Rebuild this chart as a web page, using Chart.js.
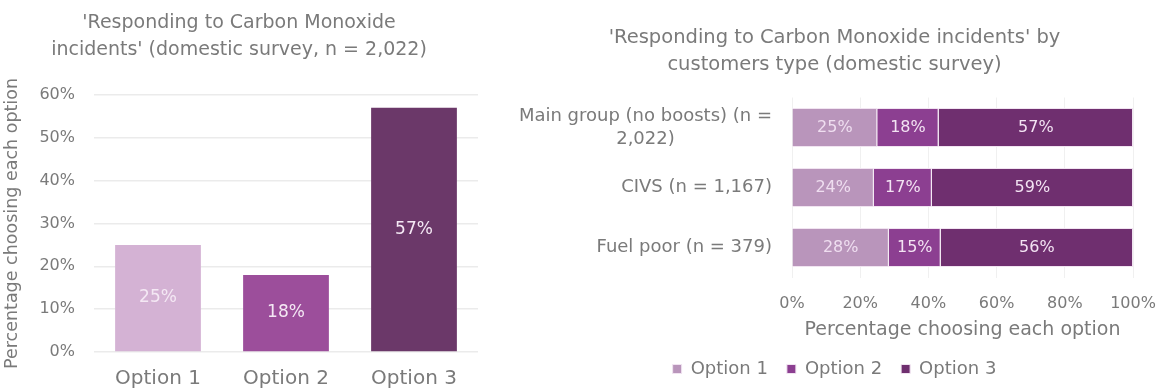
<!DOCTYPE html>
<html>
<head>
<meta charset="utf-8">
<script src="https://cdn.jsdelivr.net/npm/chart.js@4.4.0/dist/chart.umd.min.js"></script>
<style>
  html, body { margin: 0; padding: 0; background: #fff; }
  #wrap { position: relative; width: 1159px; height: 390px; overflow: hidden; }
  #leftBox { position: absolute; left: 0; top: 0; width: 500px; height: 390px; }
  #rightBox { position: absolute; left: 510px; top: 0; width: 649px; height: 390px; }
</style>
</head>
<body>
<div id="wrap">
  <div id="leftBox"><canvas id="overallChart"></canvas></div>
  <div id="rightBox"><canvas id="groupChart"></canvas></div>
</div>
<script>
// overall result (left chart)
const optionLabels = ['Option 1', 'Option 2', 'Option 3'];
const overallValues = [25, 18, 57];
const overallTicks = [0, 10, 20, 30, 40, 50, 60];

// by customer type (right chart), shares shown rounded on the bars
const groupLabels = [['Main group (no boosts) (n =', '2,022)'], 'CIVS (n = 1,167)', 'Fuel poor (n = 379)'];
const option1Values = [25, 24, 28.4];
const option2Values = [18, 17, 15.2];
const option3Values = [57, 59, 56.4];
const groupTicks = [0, 20, 40, 60, 80, 100];

const leftColours = ['#d4b2d4', '#9c4e9b', '#6b3869'];
const rightColours = ['#b995bb', '#8c3f91', '#6f2f6f'];
const textGrey = '#7a7a7a';
const fontFamily = "'DejaVu Sans', sans-serif";

// draws the % text in the middle of every bar
const barValueLabels = {
    id: 'barValueLabels',
    afterDatasetsDraw(chart, args, opts) {
        const ctx = chart.ctx;
        ctx.save();
        ctx.font = `${opts.size || 16}px ${fontFamily}`;
        ctx.textAlign = 'center';
        ctx.textBaseline = 'middle';
        chart.data.datasets.forEach((ds, di) => {
            const meta = chart.getDatasetMeta(di);
            meta.data.forEach((bar, i) => {
                const p = bar.getCenterPoint();
                ctx.fillStyle = (opts.colours && opts.colours[di]) || '#f3e3f3';
                ctx.fillText(Math.round(ds.data[i]) + '%', p.x, p.y);
            });
        });
        ctx.restore();
    }
};

// category labels of the horizontal chart: block right aligned, lines centred in the block
const groupAxisLabels = {
    id: 'groupAxisLabels',
    afterDraw(chart, args, opts) {
        const ctx = chart.ctx;
        const yScale = chart.scales.y;
        const right = chart.chartArea.left - opts.gap;
        ctx.save();
        ctx.font = `${opts.size}px ${fontFamily}`;
        ctx.fillStyle = textGrey;
        ctx.textAlign = 'center';
        ctx.textBaseline = 'middle';
        chart.data.labels.forEach((label, i) => {
            const lines = Array.isArray(label) ? label : [label];
            const w = Math.max(...lines.map(l => ctx.measureText(l).width));
            const y = yScale.getPixelForTick(i);
            lines.forEach((line, j) => {
                ctx.fillText(line, right - w / 2, y + (j - (lines.length - 1) / 2) * opts.lineGap);
            });
        });
        ctx.restore();
    }
};

Chart.defaults.font.family = fontFamily;
Chart.defaults.color = textGrey;

new Chart(document.getElementById('overallChart'), {
    type: 'bar',
    data: {
        labels: optionLabels,
        datasets: [{
            data: overallValues,
            backgroundColor: leftColours,
            barPercentage: 0.67,
            categoryPercentage: 1
        }]
    },
    options: {
        responsive: true,
        maintainAspectRatio: false,
        animation: false,
        layout: { padding: { top: 0, right: 22, bottom: 0, left: 0 } },
        plugins: {
            legend: { display: false },
            tooltip: { enabled: false },
            title: {
                display: true,
                text: ["'Responding to Carbon Monoxide", "incidents' (domestic survey, n = 2,022)"],
                font: { size: 19, weight: 'normal', lineHeight: 1.42 },
                color: textGrey,
                padding: { top: 10, bottom: 31 }
            },
            barValueLabels: { size: 17, colours: ['#f4e8f4'] }
        },
        scales: {
            x: {
                afterFit: (scale) => { scale.height = 38; },
                grid: { display: false },
                border: { display: false },
                ticks: { font: { size: 20 }, color: textGrey, padding: 7 }
            },
            y: {
                min: 0,
                max: 60,
                afterBuildTicks: (scale) => { scale.ticks = overallTicks.map(v => ({ value: v })); },
                afterFit: (scale) => { scale.width = 94; },
                grid: { color: '#ebebeb', lineWidth: 1.5, drawTicks: false },
                border: { display: false },
                ticks: {
                    font: { size: 16 },
                    color: textGrey,
                    padding: 19,
                    callback: (v) => v + '%'
                },
                title: {
                    display: true,
                    text: 'Percentage choosing each option',
                    font: { size: 17.5 },
                    color: textGrey,
                    padding: { top: 1.5, bottom: 0 }
                }
            }
        }
    },
    plugins: [barValueLabels]
});

new Chart(document.getElementById('groupChart'), {
    type: 'bar',
    data: {
        labels: groupLabels,
        datasets: [
            { label: 'Option 1', data: option1Values, backgroundColor: rightColours[0] },
            { label: 'Option 2', data: option2Values, backgroundColor: rightColours[1] },
            { label: 'Option 3', data: option3Values, backgroundColor: rightColours[2] }
        ].map(d => Object.assign(d, {
            borderColor: '#f1e4f1',
            borderWidth: 1,
            barPercentage: 0.65,
            categoryPercentage: 1
        }))
    },
    options: {
        indexAxis: 'y',
        responsive: true,
        maintainAspectRatio: false,
        animation: false,
        layout: { padding: { top: 0, right: 0, bottom: 2, left: 0 } },
        plugins: {
            tooltip: { enabled: false },
            title: {
                display: true,
                text: ["'Responding to Carbon Monoxide incidents' by", 'customers type (domestic survey)'],
                font: { size: 19.5, weight: 'normal', lineHeight: 1.385 },
                color: textGrey,
                padding: { top: 24.5, bottom: 19 }
            },
            legend: {
                position: 'bottom',
                labels: {
                    boxWidth: 9,
                    boxHeight: 9,
                    font: { size: 18 },
                    color: textGrey,
                    padding: 19
                }
            },
            barValueLabels: { size: 16, colours: ['#efdef0', '#f3e3f3', '#f3e3f3'] },
            groupAxisLabels: { size: 18, gap: 20, lineGap: 23 }
        },
        scales: {
            x: {
                stacked: true,
                min: 0,
                max: 100,
                afterBuildTicks: (scale) => { scale.ticks = groupTicks.map(v => ({ value: v })); },
                afterFit: (scale) => { scale.height = 63.5; scale.paddingRight = 26; },
                grid: { color: '#f0f0f0', drawTicks: false },
                border: { display: false },
                ticks: { font: { size: 16 }, color: textGrey, padding: 16.5, callback: (v) => v + '%' },
                title: {
                    display: true,
                    text: 'Percentage choosing each option',
                    font: { size: 19 },
                    color: textGrey,
                    padding: { top: 0, bottom: 0 }
                }
            },
            y: {
                stacked: true,
                afterFit: (scale) => { scale.width = 282; },
                grid: { display: false },
                border: { display: false },
                ticks: { display: false }
            }
        }
    },
    plugins: [barValueLabels, groupAxisLabels]
});
</script>
</body>
</html>
